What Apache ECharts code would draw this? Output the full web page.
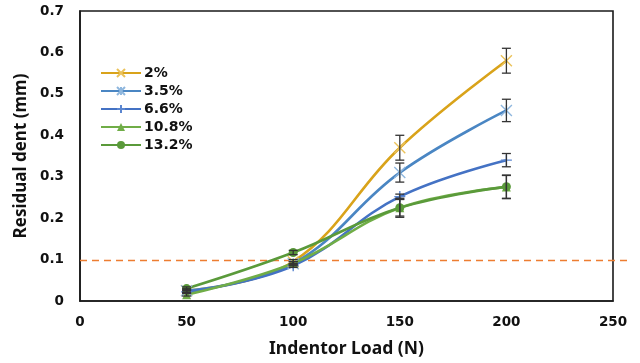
<!DOCTYPE html>
<html>
<head>
<meta charset="utf-8">
<script src="https://cdn.jsdelivr.net/npm/echarts@6/dist/echarts.min.js"></script>
<style>
  html, body { margin: 0; padding: 0; background: #fff; }
  #chart { width: 640px; height: 363px; }
</style>
</head>
<body>
<div id="chart"></div>
<script>
// Indentor load (N) on the x axis
const loads = [50, 100, 150, 200];

// Residual dent (mm) per moisture level, with error half-widths
const seriesNames = ['2%', '3.5%', '6.6%', '10.8%', '13.2%'];
const dent2   = [0.025, 0.095, 0.370, 0.580];
const dent35  = [0.025, 0.090, 0.310, 0.460];
const dent66  = [0.022, 0.085, 0.252, 0.340];
const dent108 = [0.015, 0.091, 0.225, 0.275];
const dent132 = [0.030, 0.117, 0.225, 0.276];

const err2   = [0.004, 0.005, 0.030, 0.030];
const err35  = [0.004, 0.005, 0.023, 0.027];
const err66  = [0.003, 0.004, 0.006, 0.016];
const err108 = [0.003, 0.004, 0.020, 0.028];
const err132 = [0.004, 0.005, 0.023, 0.028];

// Reference threshold (mm)
const threshold = 0.1;

const xTicks = [0, 50, 100, 150, 200, 250];
const yTicks = [0, 0.1, 0.2, 0.3, 0.4, 0.5, 0.6, 0.7];

const values = [dent2, dent35, dent66, dent108, dent132];
const errors = [err2, err35, err66, err108, err132];
const colors = ['#D9A31A', '#4A86C3', '#4472C4', '#70AD47', '#5A9A3A'];
const markerColors = ['#EBC25A', '#8FB7DE', '#5B86D0', '#70AD47', '#5A9A3A'];
const symbols = [
  'path://M0,0L10,10M10,0L0,10',
  'path://M0,0L10,10M10,0L0,10M5,0L5,10',
  'path://M0,5L10,5M5,0L5,10',
  'triangle',
  'circle'
];
const symbolSizes = [11, 11, 11, 9, 9];

const bold = { fontFamily: 'DejaVu Sans', fontWeight: 'bold', color: '#111' };

const lineSeries = seriesNames.map((name, i) => {
  const isPath = symbols[i].startsWith('path://');
  return {
    name: name,
    type: 'line',
    xAxisIndex: 0,
    yAxisIndex: 0,
    data: loads.map((x, j) => [x, values[i][j]]),
    smooth: 0.4,
    symbol: symbols[i],
    symbolSize: symbolSizes[i],
    showAllSymbol: true,
    lineStyle: { color: colors[i], width: 2.6 },
    itemStyle: isPath
      ? { color: markerColors[i], borderColor: markerColors[i], borderWidth: 1.4 }
      : { color: markerColors[i], borderWidth: 0 },
    emphasis: { disabled: true },
    z: 3
  };
});

// Error bars drawn as vertical whiskers with caps
const errData = [];
values.forEach((vals, i) => {
  vals.forEach((v, j) => {
    errData.push([loads[j], v - errors[i][j], v + errors[i][j]]);
  });
});

const errorSeries = {
  type: 'custom',
  xAxisIndex: 0,
  yAxisIndex: 0,
  data: errData,
  z: 5,
  silent: true,
  renderItem: function (params, api) {
    const lo = api.coord([api.value(0), api.value(1)]);
    const hi = api.coord([api.value(0), api.value(2)]);
    const cap = 4.5;
    const style = { stroke: '#333', lineWidth: 1.3 };
    return {
      type: 'group',
      children: [
        { type: 'line', shape: { x1: lo[0], y1: lo[1], x2: hi[0], y2: hi[1] }, style: style },
        { type: 'line', shape: { x1: lo[0] - cap, y1: lo[1], x2: lo[0] + cap, y2: lo[1] }, style: style },
        { type: 'line', shape: { x1: hi[0] - cap, y1: hi[1], x2: hi[0] + cap, y2: hi[1] }, style: style }
      ]
    };
  }
};

// Dashed threshold line, which runs a little past the plot frame
const thresholdSeries = {
  type: 'line',
  xAxisIndex: 1,
  yAxisIndex: 1,
  data: [[0, threshold], [1, threshold]],
  symbol: 'none',
  lineStyle: { color: '#ED7D31', width: 1.6, type: [7, 5] },
  silent: true,
  z: 2
};

const chart = echarts.init(document.getElementById('chart'), null, { renderer: 'canvas' });
chart.setOption({
  animation: false,
  backgroundColor: '#fff',
  grid: [
    { left: 80, right: 27, top: 11, bottom: 61, show: true, borderColor: '#1a1a1a', borderWidth: 1.6, backgroundColor: 'transparent' },
    { left: 80, right: 12, top: 11, bottom: 61, show: false }
  ],
  legend: {
    orient: 'vertical',
    left: 95,
    top: 61,
    itemWidth: 40,
    itemHeight: 10,
    itemGap: 4,
    textStyle: { fontFamily: 'DejaVu Sans', fontWeight: 'bold', fontSize: 14, color: '#111', padding: [0, 0, 0, -2] },
    data: seriesNames
  },
  xAxis: [
    {
      type: 'value',
      gridIndex: 0,
      min: xTicks[0],
      max: xTicks[xTicks.length - 1],
      interval: 50,
      name: 'Indentor Load (N)',
      nameLocation: 'middle',
      nameGap: 39,
      nameTextStyle: { fontFamily: 'Noto Sans', fontWeight: 'bold', fontSize: 17.5, color: '#111' },
      axisLine: { show: true, lineStyle: { color: '#1a1a1a', width: 1.6 } },
      axisTick: { show: false },
      splitLine: { show: false },
      axisLabel: Object.assign({ fontSize: 13.5, margin: 14 }, bold)
    },
    { type: 'value', gridIndex: 1, min: 0, max: 1, show: false }
  ],
  yAxis: [
    {
      type: 'value',
      gridIndex: 0,
      min: yTicks[0],
      max: yTicks[yTicks.length - 1],
      interval: 0.1,
      name: 'Residual dent (mm)',
      nameLocation: 'middle',
      nameGap: 50,
      nameTextStyle: { fontFamily: 'Noto Sans', fontWeight: 'bold', fontSize: 17, color: '#111' },
      axisLine: { show: true, lineStyle: { color: '#1a1a1a', width: 1.6 } },
      axisTick: { show: false },
      splitLine: { show: false },
      axisLabel: Object.assign({ fontSize: 13.5, margin: 16, formatter: v => String(Math.round(v * 10) / 10) }, bold)
    },
    { type: 'value', gridIndex: 1, min: yTicks[0], max: yTicks[yTicks.length - 1], show: false }
  ],
  series: [thresholdSeries].concat(lineSeries, [errorSeries])
});
</script>
</body>
</html>
